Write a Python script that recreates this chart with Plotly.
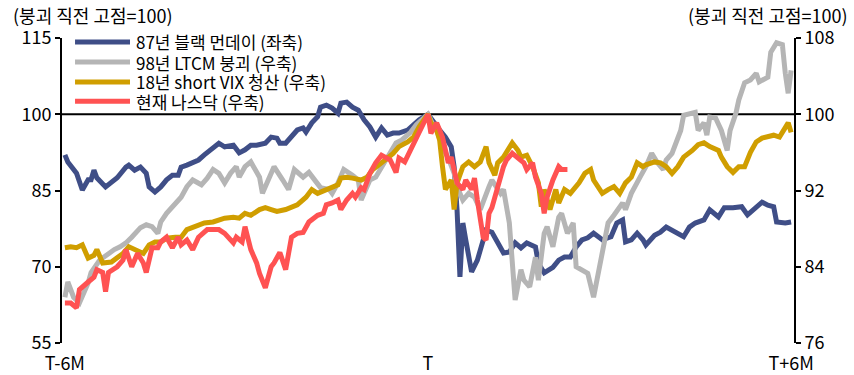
import plotly.graph_objects as go

# ---- data (x: trading days relative to crash peak T; T-6M ~ -125, T+6M ~ +125) ----
tick_vals = [-125, 0, 125]
tick_text = ["T-6M", "T", "T+6M"]
left_ticks = [55, 70, 85, 100, 115]
right_ticks = [76, 84, 92, 100, 108]

names = ["87년 블랙 먼데이 (좌축)", "98년 LTCM 붕괴 (우축)", "18년 short VIX 청산 (우축)", "현재 나스닥 (우축)"]
colors = ["#3F4E87", "#B5B5B5", "#D09E00", "#FF5252"]

days_1987 = [-125,-124,-121,-119,-117,-116,-115,-114,-111,-108,-107,-104,-103,-101,-99,-97,-96,-94,-92,-90,
             -88,-86,-85,-83,-81,-79,-77,-75,-72,-70,-67,-65,-63,-61,-59,-56,-54,-52,-51,-49,
             -47,-45,-43,-42,-40,-38,-37,-35,-33,-31,-30,-28,-26,-24,-22,-20,-18,-16,-14,-12,
             -10,-7,-5,-3,0,2,4,6,8,9,10,11,12,13,15,17,19,20,22,24,
             26,28,30,32,34,37,38,40,43,45,47,49,51,53,55,57,60,63,65,67,
             68,70,72,74,75,78,80,82,84,88,90,92,95,97,100,102,105,108,110,112,
             115,117,119,120,123,125]
vals_1987 = [92.0,90.6,88.4,85.1,87.1,87.1,89.0,87.5,85.7,87.1,87.5,89.6,90.0,89.0,89.6,88.4,85.7,84.7,85.7,87.1,
             88.0,88.0,89.6,90.0,90.6,91.0,92.0,93.0,94.3,93.6,93.9,92.4,93.0,93.9,93.9,94.3,95.5,95.3,94.3,94.3,
             95.5,96.9,97.3,96.5,98.3,99.5,101.4,101.8,101.2,100.2,102.2,102.4,101.4,100.8,98.9,97.5,95.5,97.3,95.9,96.3,
             96.3,96.9,97.9,98.9,100.0,98.3,96.9,95.5,93.6,89.6,81.2,68.0,78.6,75.3,69.0,71.3,75.3,77.2,76.8,74.5,
             72.7,72.9,74.7,73.7,74.7,73.9,70.7,68.8,69.9,71.3,71.9,71.9,73.9,75.3,75.7,76.6,75.3,75.9,78.6,79.2,
             74.9,75.3,76.6,75.3,74.3,76.2,76.8,77.8,77.2,75.9,77.8,78.6,79.2,81.2,79.8,81.6,81.6,81.8,80.2,81.2,
             82.7,82.1,81.8,78.8,78.6,78.8]

days_1998 = [-125,-124,-122,-120,-117,-116,-113,-110,-108,-106,-104,-102,-99,-97,-95,-93,-92,-90,-88,-85,
             -83,-81,-78,-76,-74,-72,-70,-68,-66,-65,-63,-61,-58,-57,-55,-53,-50,-48,-46,-43,
             -41,-39,-37,-34,-33,-31,-29,-26,-24,-23,-20,-18,-16,-13,-11,-9,-6,-4,-2,0,
             2,3,5,7,9,10,12,14,16,18,21,22,25,26,28,30,32,33,35,37,
             38,40,41,43,45,46,48,50,51,53,55,57,59,60,62,64,67,68,70,73,
             75,77,79,81,82,84,86,87,88,90,92,93,95,96,97,99,101,103,104,106,
             107,109,111,113,114,117,118,120,122,123,124,125]
vals_1998 = [80.8,82.4,80.8,80.2,82.3,83.4,84.7,85.4,85.8,86.1,86.5,87.1,88.1,88.4,88.2,87.5,88.7,89.6,90.3,91.3,
             92.4,93.1,92.6,93.3,94.2,93.8,92.8,93.8,94.5,93.4,94.5,95.0,93.4,91.7,93.1,94.5,93.1,92.1,94.2,93.4,
             93.9,93.1,92.3,92.1,91.7,92.8,94.2,93.6,93.1,91.0,93.1,93.4,94.5,95.9,97.0,97.3,98.1,98.9,99.4,100.0,
             98.7,98.3,96.6,95.4,93.8,92.4,91.0,91.7,91.3,90.0,92.4,93.1,91.7,92.1,88.6,80.5,83.7,82.6,81.9,85.0,
             82.6,87.5,88.2,86.1,89.2,89.6,87.5,88.6,84.0,83.7,83.3,80.8,84.0,85.0,88.6,89.4,90.7,90.0,91.7,93.4,
             94.5,95.9,94.9,94.2,95.2,95.9,97.3,98.3,99.9,100.1,100.2,98.3,99.1,97.8,99.7,99.6,98.3,96.2,98.3,100.1,
             101.5,103.3,103.6,104.3,103.4,103.9,106.5,107.5,107.3,104.3,102.2,104.6]

days_2018 = [-125,-123,-121,-119,-117,-115,-114,-112,-109,-107,-105,-103,-101,-98,-96,-94,-92,-90,-87,-85,
             -83,-80,-77,-74,-72,-70,-67,-65,-63,-61,-58,-56,-54,-52,-49,-47,-45,-42,-40,-38,
             -35,-33,-31,-30,-28,-26,-23,-21,-19,-16,-14,-12,-10,-7,-5,-3,0,1,3,4,
             5,6,8,9,10,12,14,16,18,20,21,23,24,26,29,31,32,34,36,38,
             39,40,42,44,45,47,49,51,52,54,56,57,60,62,64,66,68,70,72,74,
             75,78,80,82,84,86,88,91,93,95,97,100,101,103,105,107,109,111,113,115,
             117,119,121,124,125]
vals_2018 = [86.0,86.1,86.0,86.3,84.9,85.2,85.8,84.4,84.5,85.0,85.4,86.1,85.8,85.4,86.3,86.6,86.6,87.0,87.1,87.1,
             87.9,88.2,88.6,88.7,88.9,89.1,89.2,89.1,89.6,89.4,90.0,90.2,90.0,89.8,90.0,90.3,90.5,91.3,92.1,91.7,
             92.1,92.3,92.6,93.3,93.4,93.3,93.1,93.4,94.2,94.9,95.4,95.9,96.6,97.1,97.6,98.7,100.0,99.1,98.3,97.3,
             94.5,92.1,93.1,90.0,92.8,94.5,95.0,94.5,95.0,96.6,94.9,93.6,94.9,95.5,97.0,96.2,95.5,95.7,94.5,92.8,
             90.3,92.1,90.0,92.1,90.7,92.1,91.7,92.4,92.8,93.8,94.2,93.1,91.7,92.1,92.4,91.7,92.8,93.4,94.9,94.5,
             94.7,95.0,94.9,94.5,93.8,94.5,95.5,96.2,96.8,97.0,96.6,96.2,95.5,94.5,93.9,94.5,94.5,96.0,97.1,97.5,
             97.6,97.8,97.6,99.1,98.1]

days_now = [-125,-123,-121,-120,-117,-115,-114,-112,-111,-110,-107,-105,-104,-102,-100,-98,-97,-95,-93,-92,
            -90,-88,-86,-85,-83,-81,-79,-76,-74,-72,-70,-67,-66,-64,-63,-61,-59,-58,-56,-54,
            -53,-51,-49,-47,-45,-43,-41,-38,-36,-35,-33,-31,-30,-28,-26,-25,-23,-22,-20,-18,
            -16,-13,-11,-10,-8,-6,-4,-2,0,1,3,5,6,7,8,10,12,13,15,16,
            17,19,20,21,22,24,26,27,29,31,33,34,36,37,39,40,41,43,45,46,48]
vals_now = [80.2,80.2,79.7,81.6,82.4,82.9,83.7,83.4,81.4,83.4,84.0,84.7,85.8,84.0,85.4,84.4,83.4,86.0,86.0,86.6,
            87.1,86.0,87.1,86.3,86.8,85.8,87.1,87.9,87.9,87.9,87.5,86.5,87.1,86.6,88.2,85.8,84.4,83.3,81.8,84.0,
            84.4,85.5,83.7,87.1,87.5,87.6,88.7,89.4,89.6,90.5,90.7,91.0,90.0,91.0,91.7,91.3,92.3,92.1,93.8,94.9,
            95.7,95.2,93.9,95.4,95.0,96.2,97.6,98.7,100.0,98.0,99.1,97.6,96.0,94.9,95.5,92.8,92.1,93.1,92.1,93.3,
            91.0,87.1,86.8,89.6,90.2,92.6,94.5,95.2,95.9,95.4,94.9,94.2,94.9,93.4,91.7,89.6,91.3,93.1,94.5,94.2,94.2]

series = [(days_1987, vals_1987, "y"), (days_1998, vals_1998, "y2"),
          (days_2018, vals_2018, "y2"), (days_now, vals_now, "y2")]

FONT = "Noto Sans CJK KR, Noto Sans, sans-serif"
FS = 18
FS_LEG = 17

fig = go.Figure()
for (d, v, ax), nm, c in zip(series, names, colors):
    fig.add_trace(go.Scatter(x=d, y=v, yaxis=ax, mode="lines", name=nm,
                             line=dict(color=c, width=5), showlegend=False))

axis_common = dict(showgrid=False, zeroline=False, showline=True, linecolor="black", linewidth=2,
                   ticks="outside", ticklen=5, tickwidth=2, tickcolor="black", automargin=False,
                   tickfont=dict(size=FS, color="black", family=FONT))

fig.update_layout(
    width=854, height=375,
    margin=dict(l=62, r=60, t=38, b=32),
    paper_bgcolor="white", plot_bgcolor="white",
    font=dict(family=FONT, size=FS, color="black"),
    xaxis=dict(range=[-126, 126], tickvals=tick_vals, ticktext=tick_text, showgrid=False,
               zeroline=False, showline=False, ticks="outside", ticklen=4, automargin=False,
               tickcolor="rgba(0,0,0,0)", tickfont=dict(size=FS, color="black", family=FONT)),
    yaxis=dict(range=[55, 115], tickvals=left_ticks, **axis_common),
    yaxis2=dict(range=[76, 108], tickvals=right_ticks, overlaying="y", side="right", **axis_common),
)

# reference line at 100
fig.add_shape(type="line", xref="paper", x0=0, x1=1, yref="y", y0=100, y1=100,
              line=dict(color="black", width=2), layer="below")

# axis captions
fig.add_annotation(text="(붕괴 직전 고점=100)", xref="paper", yref="paper", x=-0.07, y=1.075,
                   xanchor="left", yanchor="middle", showarrow=False, font=dict(size=FS))
fig.add_annotation(text="(붕괴 직전 고점=100)", xref="paper", yref="paper", x=1.076, y=1.075,
                   xanchor="right", yanchor="middle", showarrow=False, font=dict(size=FS))

# legend (manual)
leg_y = [0.987, 0.921, 0.856, 0.793]
for nm, c, ly in zip(names, colors, leg_y):
    fig.add_shape(type="line", xref="paper", yref="paper", x0=0.0178, x1=0.0929, y0=ly, y1=ly,
                  line=dict(color=c, width=5))
    fig.add_annotation(text=nm, xref="paper", yref="paper", x=0.0984, y=ly, xanchor="left",
                       yanchor="middle", showarrow=False, font=dict(size=FS_LEG))

fig.write_html("out.html")
